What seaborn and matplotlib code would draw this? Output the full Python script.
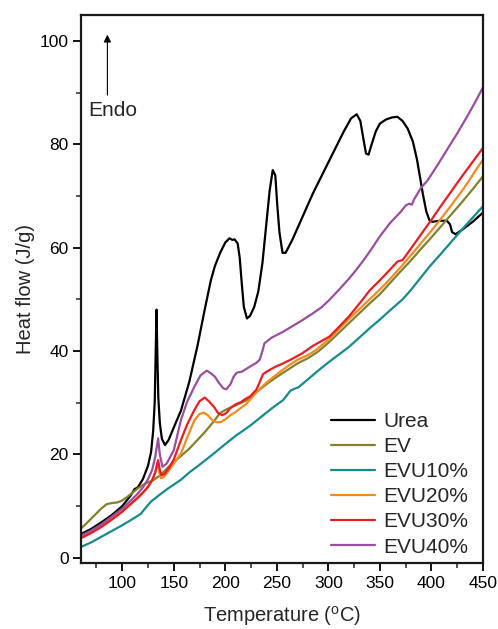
import numpy as np
import pandas as pd
import matplotlib
matplotlib.use("Agg")
import matplotlib.pyplot as plt
from matplotlib.ticker import MultipleLocator
from matplotlib.lines import Line2D
import seaborn as sns

# ---------------- data ----------------
urea_T = [60, 70, 80, 90, 100, 108, 112, 115, 120, 125, 128, 130, 131.5, 132.5, 133.3, 134, 135, 136.5,
          138.5, 141.5, 145, 150, 157, 165, 173, 180, 186, 190, 195, 200, 204, 207, 209, 212, 214, 216,
          218, 221, 224, 228, 232, 236, 240, 243, 246, 248.5, 250.5, 252.5, 255.5, 258.5, 265, 275, 285,
          295, 305, 315, 322, 327.5, 331, 334, 336.5, 339, 342, 346, 350, 356, 362, 367, 372, 377, 382,
          386, 389, 392, 395, 398, 401, 408, 415, 418, 420, 423.5, 430, 440, 450]
urea_hf = [4.6, 5.6, 6.9, 8.3, 10.0, 12.0, 13.3, 13.6, 15.2, 17.8, 20.5, 24.5, 30, 40, 48, 40, 31, 26,
           23, 21.8, 22.8, 25.2, 28.5, 34, 41, 48, 53.7, 56.5, 59, 61, 61.8, 61.5, 61.6, 60.8, 58, 53,
           48.5, 46.3, 46.8, 48.5, 51.5, 57, 65, 71, 75, 74, 68, 63, 59, 59, 61.5, 66, 70.5,
           74.5, 78.5, 82.5, 85, 85.8, 84.5, 81, 78.2, 78, 80, 82.5, 84, 84.8, 85.2, 85.3, 84.5, 83, 80.5,
           77, 73.5, 70, 67, 65.3, 65, 65.2, 65.2, 64.5, 63, 62.6, 63.5, 65, 66.8]

ev_T = [60, 65, 70, 75, 80, 85, 90, 95, 100, 105, 110, 115, 120, 125, 130, 135, 140, 145, 150, 157, 165,
        173, 180, 188, 195, 200, 210, 220, 230, 240, 250, 260, 270, 280, 290, 300, 310, 320, 330, 340,
        350, 360, 370, 380, 390, 400, 410, 420, 430, 440, 450]
ev_hf = [5.7, 6.6, 7.6, 8.6, 9.6, 10.4, 10.6, 10.7, 11.1, 11.8, 12.6, 13.4, 14.1, 14.6, 15.0, 15.7, 16.6,
         17.6, 18.5, 19.7, 21.1, 22.8, 24.3, 26.2, 28.0, 28.6, 29.5, 30.4, 32.0, 33.6, 35.0, 36.3, 37.6,
         38.6, 39.9, 41.6, 43.5, 45.4, 47.3, 49.2, 51.0, 53.2, 55.4, 57.5, 59.8, 62.0, 64.3, 66.6, 68.9,
         71.3, 73.8]

evu10_T = [60, 70, 80, 90, 100, 110, 118, 122, 128, 135, 145, 157, 165, 175, 189, 200, 210, 218, 225, 235,
           245, 256, 260, 263, 267, 271, 280, 290, 300, 310, 320, 330, 340, 350, 360, 372, 380, 390, 398,
           410, 420, 430, 440, 450]
evu10_hf = [2.1, 3.0, 4.1, 5.2, 6.3, 7.5, 8.5, 9.5, 10.9, 12.0, 13.5, 15.1, 16.5, 18.0, 20.2, 22.0, 23.6,
            24.7, 25.7, 27.3, 28.9, 30.5, 31.5, 32.3, 32.7, 33.0, 34.5, 36.2, 37.8, 39.3, 40.8, 42.6, 44.4,
            46.1, 47.9, 50.0, 51.8, 54.3, 56.3, 59.0, 61.3, 63.6, 65.8, 68.0]

evu20_T = [60, 70, 80, 90, 100, 108, 115, 120, 125, 129, 132, 134.5, 136, 137.5, 140, 145, 150, 157, 163,
           170, 175, 179, 183, 188, 192, 196, 200, 205, 210, 215, 220, 224, 230, 240, 250, 260, 270, 280,
           288, 300, 310, 320, 330, 340, 350, 360, 370, 380, 390, 400, 410, 420, 430, 436.6, 443, 450]
evu20_hf = [4.0, 5.0, 6.2, 7.6, 9.0, 10.3, 11.6, 12.6, 13.8, 15.0, 16.5, 18.5, 16.5, 15.4, 15.6, 16.8,
            18.2, 20.2, 23.3, 26.6, 27.8, 28.1, 27.6, 26.5, 26.2, 26.3, 26.8, 27.6, 28.2, 29.0, 29.7, 30.6,
            32.0, 33.9, 35.5, 37.0, 38.3, 39.2, 40.2, 42.2, 44.2, 46.2, 48.1, 50.0, 51.9, 54.0, 56.2, 58.5,
            60.9, 63.3, 65.8, 68.4, 71.1, 73.0, 75.0, 77.0]

evu30_T = [60, 70, 80, 90, 100, 108, 115, 120, 125, 129, 132, 134.8, 136.5, 138, 141, 145, 150, 157, 163,
           170, 175, 180, 184, 189, 193, 197, 201, 205, 210, 215, 220, 224, 230, 233, 236.5, 240, 248, 256,
           265, 275, 285, 301, 310, 320, 333, 340, 350, 360, 367, 372, 380, 390, 400, 410, 420, 428.5, 440,
           450]
evu30_hf = [3.8, 4.8, 6.0, 7.4, 8.9, 10.4, 11.6, 12.6, 13.7, 15.0, 16.5, 18.9, 17.0, 16.0, 16.2, 17.3,
            19.0, 22.8, 25.8, 28.6, 30.3, 31.0, 30.3, 29.2, 28.0, 27.6, 28.0, 29.0, 29.7, 30.1, 30.8, 31.2,
            32.5, 33.8, 35.5, 36.0, 36.9, 37.6, 38.5, 39.6, 41.0, 42.8, 44.6, 46.7, 49.9, 51.7, 53.7, 55.8,
            57.3, 57.6, 59.8, 62.6, 65.4, 68.3, 71.1, 73.5, 76.6, 79.3]

evu40_T = [60, 70, 80, 90, 100, 108, 115, 120, 125, 129, 132, 134.8, 136.5, 139, 143, 150, 157, 163, 170,
           176, 182, 186, 190, 194, 198, 201, 205, 208, 211, 216, 220, 224, 230, 233.3, 236, 238, 245,
           255.8, 265, 275, 285, 293, 301, 310, 320, 327, 335, 342, 350, 360, 370, 375.3, 378.5, 381, 383,
           390, 396.2, 405, 415, 425, 435, 442, 450]
evu40_hf = [4.3, 5.3, 6.5, 8.0, 9.5, 11.0, 12.4, 13.6, 15.2, 17.0, 19.5, 23.1, 20.0, 17.6, 18.2, 20.8,
            26.7, 30.2, 33.1, 35.3, 36.2, 35.7, 35.0, 33.8, 32.8, 32.6, 33.6, 35.0, 35.8, 36.0, 36.5, 37.0,
            37.7, 38.3, 40.0, 41.5, 42.6, 43.7, 44.8, 46.0, 47.3, 48.4, 49.9, 51.8, 54.0, 55.7, 57.8, 59.8,
            62.2, 64.8, 66.9, 68.2, 68.5, 68.3, 69.3, 71.6, 73.0, 75.7, 78.9, 82.1, 85.5, 88.0, 91.0]

series_names = ["Urea", "EV", "EVU10%", "EVU20%", "EVU30%", "EVU40%"]
x_ticks = [100, 150, 200, 250, 300, 350, 400, 450]
y_ticks = [0, 20, 40, 60, 80, 100]

# ---------------- build long table ----------------
series = [(urea_T, urea_hf), (ev_T, ev_hf), (evu10_T, evu10_hf),
          (evu20_T, evu20_hf), (evu30_T, evu30_hf), (evu40_T, evu40_hf)]
frames = []
for name, (t, h) in zip(series_names, series):
    frames.append(pd.DataFrame({"T": t, "HF": h, "sample": name}))
df = pd.concat(frames, ignore_index=True)

colors = ["#000000", "#82822E", "#178A8A", "#F38B1F", "#E81E24", "#994E9E"]
palette = dict(zip(series_names, colors))

# ---------------- style ----------------
sns.set_style("ticks")
plt.rcParams["font.family"] = ["Liberation Sans", "DejaVu Sans"]
plt.rcParams["mathtext.fontset"] = "custom"
plt.rcParams["mathtext.rm"] = "Liberation Sans"

fig = plt.figure(figsize=(4.98, 6.29), dpi=100)
ax = fig.add_axes([81 / 498, 66 / 629, 402 / 498, 548 / 629])

sns.lineplot(data=df, x="T", y="HF", hue="sample", hue_order=series_names, palette=palette,
             estimator=None, sort=False, linewidth=1.6, legend=False, ax=ax)

ax.set_xlim(60, 450)
ax.set_ylim(-1, 105)
ax.set_xticks(x_ticks)
ax.set_yticks(y_ticks)
ax.xaxis.set_minor_locator(MultipleLocator(25))
ax.yaxis.set_minor_locator(MultipleLocator(10))
ax.tick_params(which="major", direction="out", length=6, width=1.3, labelsize=12.5, pad=3,
               colors="black")
ax.tick_params(which="minor", direction="out", length=3.5, width=1.1)
ax.tick_params(top=False, right=False)
for s in ax.spines.values():
    s.set_linewidth(1.6)
    s.set_color("#1a1a1a")
    s.set_visible(True)

ax.set_xlabel(r"Temperature ($^{\mathrm{o}}$C)", fontsize=14.5, labelpad=10)
ax.set_ylabel("Heat flow (J/g)", fontsize=14.5, labelpad=3)

# Endo arrow
ax.annotate("", xy=(85.6, 101.2), xytext=(85.6, 89.5),
            arrowprops=dict(arrowstyle="-|>", color="black", lw=0.8, mutation_scale=11,
                            shrinkA=0, shrinkB=0))
ax.text(67.5, 86.6, "Endo", fontsize=15, va="center", ha="left")

handles = [Line2D([0], [0], color=palette[n], lw=1.6) for n in series_names]
leg = ax.legend(handles, series_names, loc="lower right", bbox_to_anchor=(0.995, -0.011),
                frameon=False, fontsize=15, handlelength=2.1, handletextpad=0.4,
                labelspacing=0.29, borderaxespad=0.2)

fig.savefig("out.png", dpi=100)
